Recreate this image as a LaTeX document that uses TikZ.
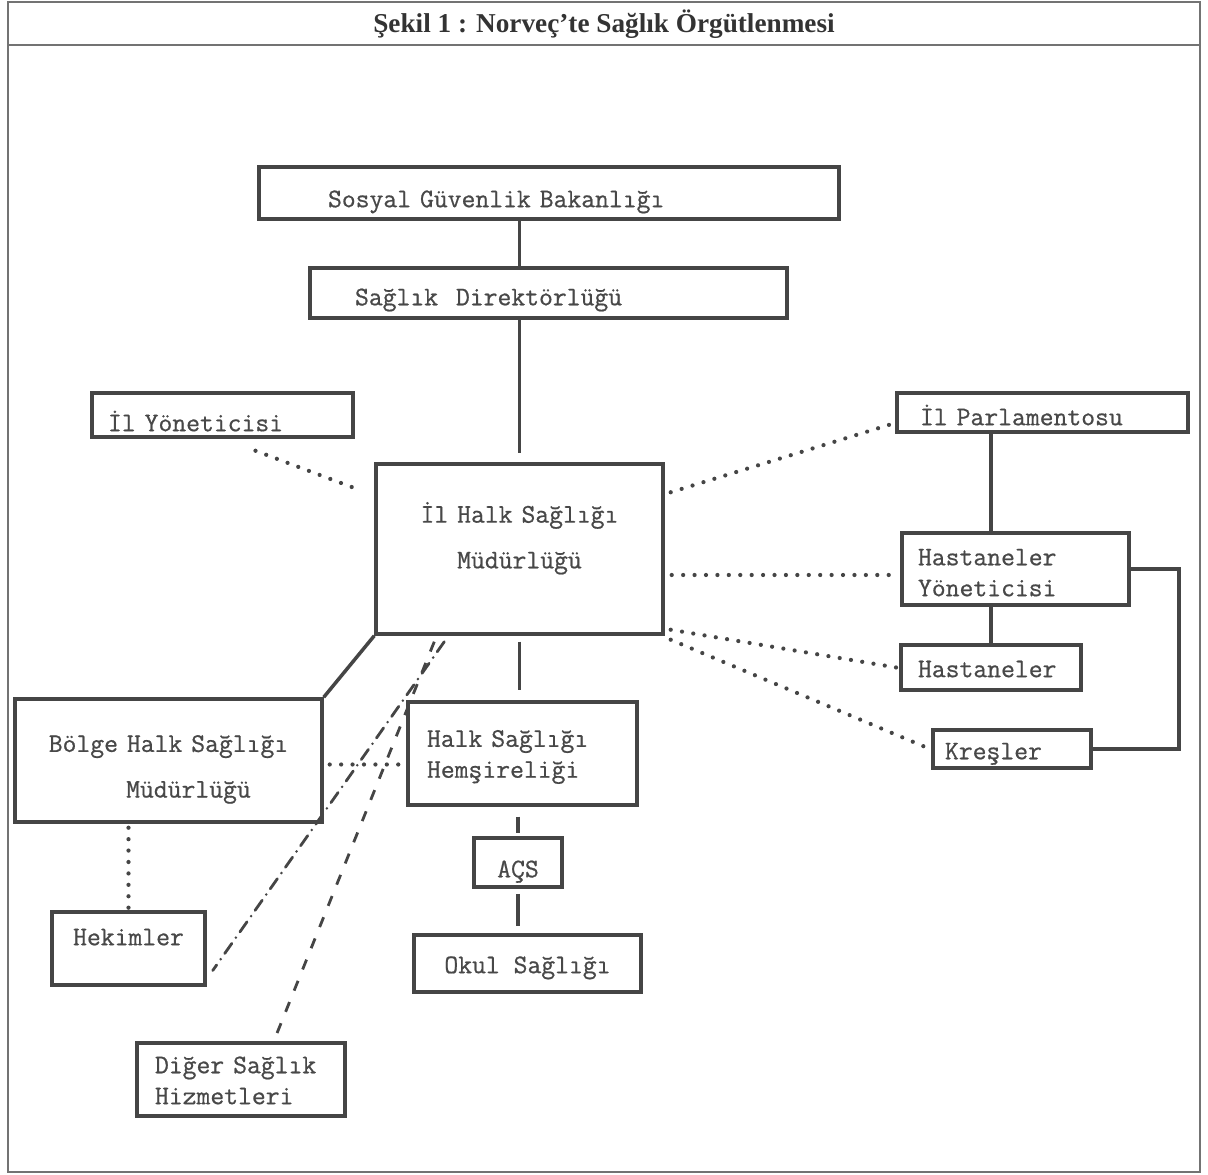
\documentclass[tikz,border=0pt]{standalone}
\usepackage{fontspec}
\setmainfont{Liberation Serif}
\newfontfamily\typewriter[FakeBold=0.7]{Latin Modern Mono}
\usetikzlibrary{calc}
\definecolor{inkgray}{HTML}{454545}
\definecolor{typegray}{HTML}{484848}

\begin{document}
\begin{tikzpicture}[
  x=0.02cm, y=-0.02cm,
  box/.style={draw=inkgray, line width=2pt, text=typegray, inner sep=0pt, align=left,
    text height=9pt, text depth=3pt, font=\typewriter\fontsize{15.3}{17.6}\selectfont},
  tallbox/.style={box, align=center, font=\typewriter\fontsize{15.3}{26}\selectfont},
  frame/.style={draw=black!55, line width=0.8pt},
  link/.style={draw=inkgray, line width=2pt},
  dotline/.style={draw=inkgray, line width=2.4pt, line cap=round, dash pattern=on 0pt off 6.5pt},
  dashdotline/.style={draw=inkgray, line width=1.6pt, line cap=round,
    dash pattern=on 7pt off 4pt on 0pt off 4pt},
  dashline/.style={draw=inkgray, line width=1.6pt, dash pattern=on 6pt off 7pt}
]

  \useasboundingbox (0,0) rectangle (1208,1175);

  % Frame and title
  \draw[frame] (8,2) rectangle (1200,1172);
  \draw[frame] (8,45) -- (1200,45);
  \node[font=\bfseries\fontsize{15.5}{18}\selectfont, text=black!80] (title) at (604,24)
    {Şekil 1 : Norveç'te Sağlık Örgütlenmesi};

  % Central chain
  \node[box, minimum width=11.6cm, minimum height=1.04cm, text width=8.84cm, text height=19.2pt]
    (sosyal) at (549,193) {Sosyal Güvenlik Bakanlığı};
  \node[box, minimum width=9.54cm, minimum height=1cm, text width=7.74cm, text height=17pt]
    (direktor) at (548.5,293) {Sağlık~~Direktörlüğü};
  \node[tallbox, minimum width=5.74cm, minimum height=3.4cm, text width=5cm, text depth=39pt]
    (ilhalk) at (519.5,549) {İl Halk Sağlığı\\Müdürlüğü};
  \node[box, minimum width=4.58cm, minimum height=2.06cm, text width=3.82cm,
    text height=13pt, text depth=20.6pt] (hemsire) at (522.5,753.5) {Halk Sağlığı\\Hemşireliği};
  \node[box, align=center, minimum width=1.76cm, minimum height=0.98cm, text height=19.8pt]
    (acs) at (518,862.5) {AÇS};
  \node[box, align=center, minimum width=4.54cm, minimum height=1.14cm, text height=14pt]
    (okul) at (527.5,963.5) {Okul Sağlığı};

  % Left side
  \node[box, minimum width=5.22cm, minimum height=0.88cm, text width=4.58cm, text height=21.5pt]
    (ilyon) at (222.5,415) {İl Yöneticisi};
  \node[tallbox, minimum width=6.14cm, minimum height=2.46cm, text width=5.6cm,
    text height=19.2pt, text depth=29pt] (bolge) at (168.5,760.5)
    {Bölge Halk Sağlığı\\\hspace*{0.8cm}Müdürlüğü};
  \node[box, align=center, minimum width=3.06cm, minimum height=1.46cm, text depth=12.7pt]
    (hekim) at (128.5,948.5) {Hekimler};
  \node[box, minimum width=4.16cm, minimum height=1.46cm, text width=3.44cm,
    text height=13.5pt, text depth=20.6pt] (diger) at (241,1079.5) {Diğer Sağlık\\Hizmetleri};

  % Right side
  \node[box, minimum width=5.82cm, minimum height=0.78cm, text width=4.9cm, text height=17.5pt]
    (ilpar) at (1042.5,412.5) {İl Parlamentosu};
  \node[box, minimum width=4.54cm, minimum height=1.44cm, text width=3.9cm,
    text height=16.4pt, text depth=20.6pt] (hasyon) at (1015.5,569) {Hastaneler\\Yöneticisi};
  \node[box, minimum width=3.6cm, minimum height=0.9cm, text width=2.92cm, text height=14pt]
    (hastane) at (991,667.5) {Hastaneler};
  \node[box, minimum width=3.16cm, minimum height=0.76cm, text width=2.68cm, text height=14.7pt]
    (kresler) at (1012,749) {Kreşler};

  % Solid links
  \draw[link] (sosyal.south -| ilhalk.north) -- (direktor.north -| ilhalk.north);
  \draw[link] (direktor.south -| ilhalk.north) -- ([yshift=0.18cm]ilhalk.north);
  \draw[link] ([yshift=-0.12cm]ilhalk.south) -- ([yshift=0.2cm]hemsire.north -| ilhalk.south);
  \draw[link] ([yshift=-0.2cm]hemsire.south -| acs.north) -- ([yshift=0.06cm]acs.north);
  \draw[link, shorten <=0.1cm, shorten >=0.14cm] (acs.south) -- (okul.north -| acs.south);
  \draw[link] (ilhalk.south west) -- (bolge.north east);
  \draw[link] (ilpar.south -| hastane.north) -- (hasyon.north -| hastane.north);
  \draw[link] (hasyon.south -| hastane.north) -- (hastane.north);
  \draw[link] (hasyon.east) -- ++(48,0) |- (kresler.east);

  % Dotted links
  \draw[dotline] ($(ilyon.south)+(33,12)$) -- ($(ilhalk.west)+(-12,-58)$);
  \draw[dotline] ($(ilhalk.north east)+(6,30)$) -- ($(ilpar.west)+(-5,12)$);
  \draw[dotline] ($(hasyon.west -| ilhalk.east)+(7,6)$) -- ($(hasyon.west)+(-3,6)$);
  \draw[dotline] ($(ilhalk.south east)+(6,-6)$) -- ($(hastane.west)+(-3,0)$);
  \draw[dotline] ($(ilhalk.south east)+(6,4)$) -- ($(kresler.west)+(-6,-2)$);
  \draw[dotline] ($(bolge.east)+(6,4)$) -- ($(bolge.east -| hemsire.west)+(0,4)$);
  \draw[dotline] ([yshift=-0.08cm]bolge.south -| hekim.north) -- (hekim.north);

  % Dashed links
  \draw[dashdotline] ($(ilhalk.south west)+(70,6)$) -- ($(hekim.east)+(6,22)$);
  \draw[dashline] ($(ilhalk.south west)+(60,6)$) -- ($(diger.north)+(36,-8)$);

\end{tikzpicture}
\end{document}
